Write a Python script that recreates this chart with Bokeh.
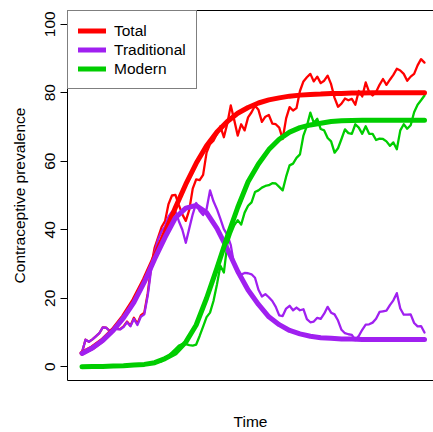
from bokeh.plotting import figure
from bokeh.models import Range1d, LinearAxis, FixedTicker, Legend, LegendItem, ColumnDataSource
from bokeh.embed import file_html
from bokeh.resources import INLINE

# ---- data ----
time = list(range(1, 101))

total_obs = [
    4.2, 7.9, 7.3, 8.0, 8.9, 9.8, 11.5, 11.4, 10.5, 11.2,
    11.1, 11.0, 11.8, 13.2, 12.0, 14.3, 12.6, 15.0, 15.8, 21.5,
    29.5, 34.8, 37.8, 40.8, 42.5, 47.5, 50.0, 50.2, 47.2, 44.5,
    42.6, 45.8, 52.0, 54.7, 54.5, 56.0, 62.5, 65.0, 66.0, 68.0,
    70.2, 67.0, 71.0, 76.3, 72.0, 67.5, 70.8, 69.0, 72.8, 74.3,
    76.2, 75.0, 71.5, 73.0, 73.5, 71.0, 70.8, 69.8, 66.5, 72.5,
    75.8, 74.8, 75.5, 80.5, 83.3, 84.5, 85.5, 83.3, 84.7, 82.8,
    83.5, 85.0, 82.5, 78.5, 75.9, 76.8, 78.3, 77.8, 78.2, 76.5,
    80.5, 78.9, 83.0, 80.2, 79.2, 80.2, 82.3, 84.0, 82.3, 83.8,
    85.2, 87.0, 86.5, 85.5, 83.5, 84.7, 85.5, 88.0, 89.8, 88.8,
]

traditional_obs = [
    4.2, 7.9, 7.3, 8.0, 8.9, 9.8, 11.5, 11.4, 10.4, 11.1,
    11.0, 10.9, 11.6, 13.0, 11.8, 14.0, 12.2, 14.6, 15.3, 20.8,
    28.6, 33.5, 37.2, 39.5, 41.0, 43.8, 45.3, 45.4, 42.5, 40.0,
    36.2, 40.4, 44.5, 47.8, 45.5, 44.3, 46.0, 51.5, 48.3, 46.0,
    43.2, 40.2, 38.5, 35.5, 29.6, 27.3, 26.9, 27.4, 27.3, 27.0,
    26.0, 22.5, 20.5, 21.2, 20.3, 19.2, 17.5, 15.0, 14.8, 17.0,
    17.8, 16.5, 17.3, 16.5, 16.8, 13.9, 13.0, 13.2, 14.3, 14.0,
    15.5, 17.5, 15.8, 15.3, 13.5, 10.8, 9.8, 9.5, 9.3, 7.8,
    9.0, 10.8, 12.3, 12.4, 12.9, 14.0, 16.0, 16.2, 16.4, 18.0,
    19.4, 21.5, 17.0, 15.2, 15.2, 15.3, 12.8, 11.8, 11.9, 10.0,
]

modern_obs = [
    0.0, 0.0, 0.1, 0.0, 0.1, 0.1, 0.1, 0.2, 0.1, 0.2,
    0.2, 0.2, 0.3, 0.3, 0.3, 0.4, 0.5, 0.5, 0.6, 0.8,
    1.0, 1.2, 1.4, 1.6, 2.2, 3.3, 4.2, 5.2, 6.2, 6.6,
    6.6, 6.3, 6.2, 6.5, 9.0, 11.7, 14.5, 15.8, 19.2, 24.0,
    29.5, 27.5, 35.8, 38.8, 41.3, 42.8, 41.5, 45.0, 47.0, 48.0,
    51.0, 51.5, 52.3, 52.8, 53.0, 53.6, 53.5, 52.5, 51.5, 55.5,
    58.8, 59.3, 61.0, 62.0, 67.5, 70.3, 74.2, 71.2, 72.4, 69.4,
    69.0, 66.8, 65.8, 62.5, 63.8, 66.5, 69.3, 68.2, 68.0, 70.8,
    69.8, 68.0, 70.2, 68.0, 68.0, 66.2, 66.6, 66.5, 65.8, 64.5,
    65.5, 63.5, 69.0, 70.8, 69.5, 70.5, 74.3, 76.5, 77.8, 79.2,
]

fit_time = list(range(1, 101, 3))

total_fit = [
    4.0, 5.6, 7.8, 10.8, 14.7, 19.5, 25.4, 32.1, 39.2, 46.5,
    53.3, 59.4, 64.5, 68.5, 71.6, 74.0, 75.7, 77.0, 77.9, 78.5,
    79.0, 79.3, 79.5, 79.6, 79.8, 79.8, 79.9, 79.9, 80.0, 80.0,
    80.0, 80.0, 80.0, 80.0,
]

traditional_fit = [
    3.9, 5.5, 7.7, 10.6, 14.3, 18.8, 24.7, 31.5, 37.8, 43.5,
    46.3, 47.1, 45.0, 40.4, 34.4, 27.9, 22.4, 18.2, 14.6, 12.3,
    10.6, 9.6, 8.9, 8.5, 8.3, 8.1, 8.1, 8.0, 8.0, 8.0,
    8.0, 8.0, 8.0, 8.0,
]

modern_fit = [
    0.0, 0.1, 0.1, 0.2, 0.3, 0.5, 0.7, 1.2, 2.4, 4.0,
    7.2, 12.2, 20.0, 28.8, 38.0, 46.5, 54.0, 59.2, 63.4, 66.4,
    68.5, 69.8, 70.6, 71.1, 71.6, 71.8, 71.9, 72.0, 72.0, 72.0,
    72.0, 72.0, 72.0, 72.0,
]

series_labels = ["Total", "Traditional", "Modern"]
y_ticks = [0, 20, 40, 60, 80, 100]

# ---- styling ----
RED = "#FF0000"
PURPLE = "#A020F0"
GREEN = "#00CD00"
FONT = "Liberation Sans"
FS = "15.5px"

obs = ColumnDataSource(dict(t=time, total=total_obs, trad=traditional_obs, mod=modern_obs))
fit = ColumnDataSource(dict(t=fit_time, total=total_fit, trad=traditional_fit, mod=modern_fit))

p = figure(width=433, height=432, output_backend="svg", toolbar_location=None,
           x_range=Range1d(-3.2, 102.6), y_range=Range1d(-4, 104),
           x_axis_type=None, y_axis_type=None,
           min_border_left=67, min_border_right=0, min_border_top=10, min_border_bottom=50)
p.outline_line_color = None
p.background_fill_color = "white"
p.border_fill_color = "white"

yaxis = LinearAxis(ticker=FixedTicker(ticks=y_ticks, minor_ticks=[]),
                   axis_label="Contraceptive prevalence")
xaxis = LinearAxis(ticker=FixedTicker(ticks=[], minor_ticks=[]), axis_label="Time")
topaxis = LinearAxis(ticker=FixedTicker(ticks=[], minor_ticks=[]))
for ax in (yaxis, xaxis, topaxis):
    ax.axis_line_color = "black"
    ax.axis_line_width = 1
    ax.axis_label_text_font = FONT
    ax.axis_label_text_font_size = FS
    ax.axis_label_text_font_style = "normal"
    ax.axis_label_text_color = "black"
    ax.major_label_text_font = FONT
    ax.major_label_text_font_size = FS
    ax.major_label_text_color = "black"
    ax.minor_tick_line_color = None
    ax.major_tick_in = 0

yaxis.major_label_orientation = "vertical"
yaxis.major_tick_out = 7
yaxis.major_tick_line_color = "black"
yaxis.major_label_standoff = 5
yaxis.axis_label_standoff = 15

xaxis.major_tick_out = 0
xaxis.major_tick_line_color = None
xaxis.major_label_standoff = 0
xaxis.axis_label_standoff = 32

topaxis.major_tick_out = 0
topaxis.major_tick_line_color = None
topaxis.major_label_standoff = 0
topaxis.axis_label_standoff = 0

p.add_layout(yaxis, "left")
p.add_layout(xaxis, "below")
p.add_layout(topaxis, "above")

kw_thin = dict(line_width=2.3, line_join="round", line_cap="round")
kw_thick = dict(line_width=5, line_join="round", line_cap="round")

p.line("t", "total", source=obs, line_color=RED, **kw_thin)
p.line("t", "trad", source=obs, line_color=PURPLE, **kw_thin)
p.line("t", "mod", source=obs, line_color=GREEN, **kw_thin)

r_tot = p.line("t", "total", source=fit, line_color=RED, **kw_thick)
r_trad = p.line("t", "trad", source=fit, line_color=PURPLE, **kw_thick)
r_mod = p.line("t", "mod", source=fit, line_color=GREEN, **kw_thick)

legend = Legend(items=[LegendItem(label=series_labels[0], renderers=[r_tot]),
                       LegendItem(label=series_labels[1], renderers=[r_trad]),
                       LegendItem(label=series_labels[2], renderers=[r_mod])],
                location="top_left", margin=0, padding=10, spacing=0,
                label_height=19, glyph_height=19, glyph_width=28, label_standoff=8,
                border_line_color="black", border_line_width=1,
                background_fill_color="white", background_fill_alpha=1,
                label_text_font=FONT, label_text_font_size=FS, label_text_color="black")
p.add_layout(legend)

open("out.html", "w").write(file_html(p, INLINE))
